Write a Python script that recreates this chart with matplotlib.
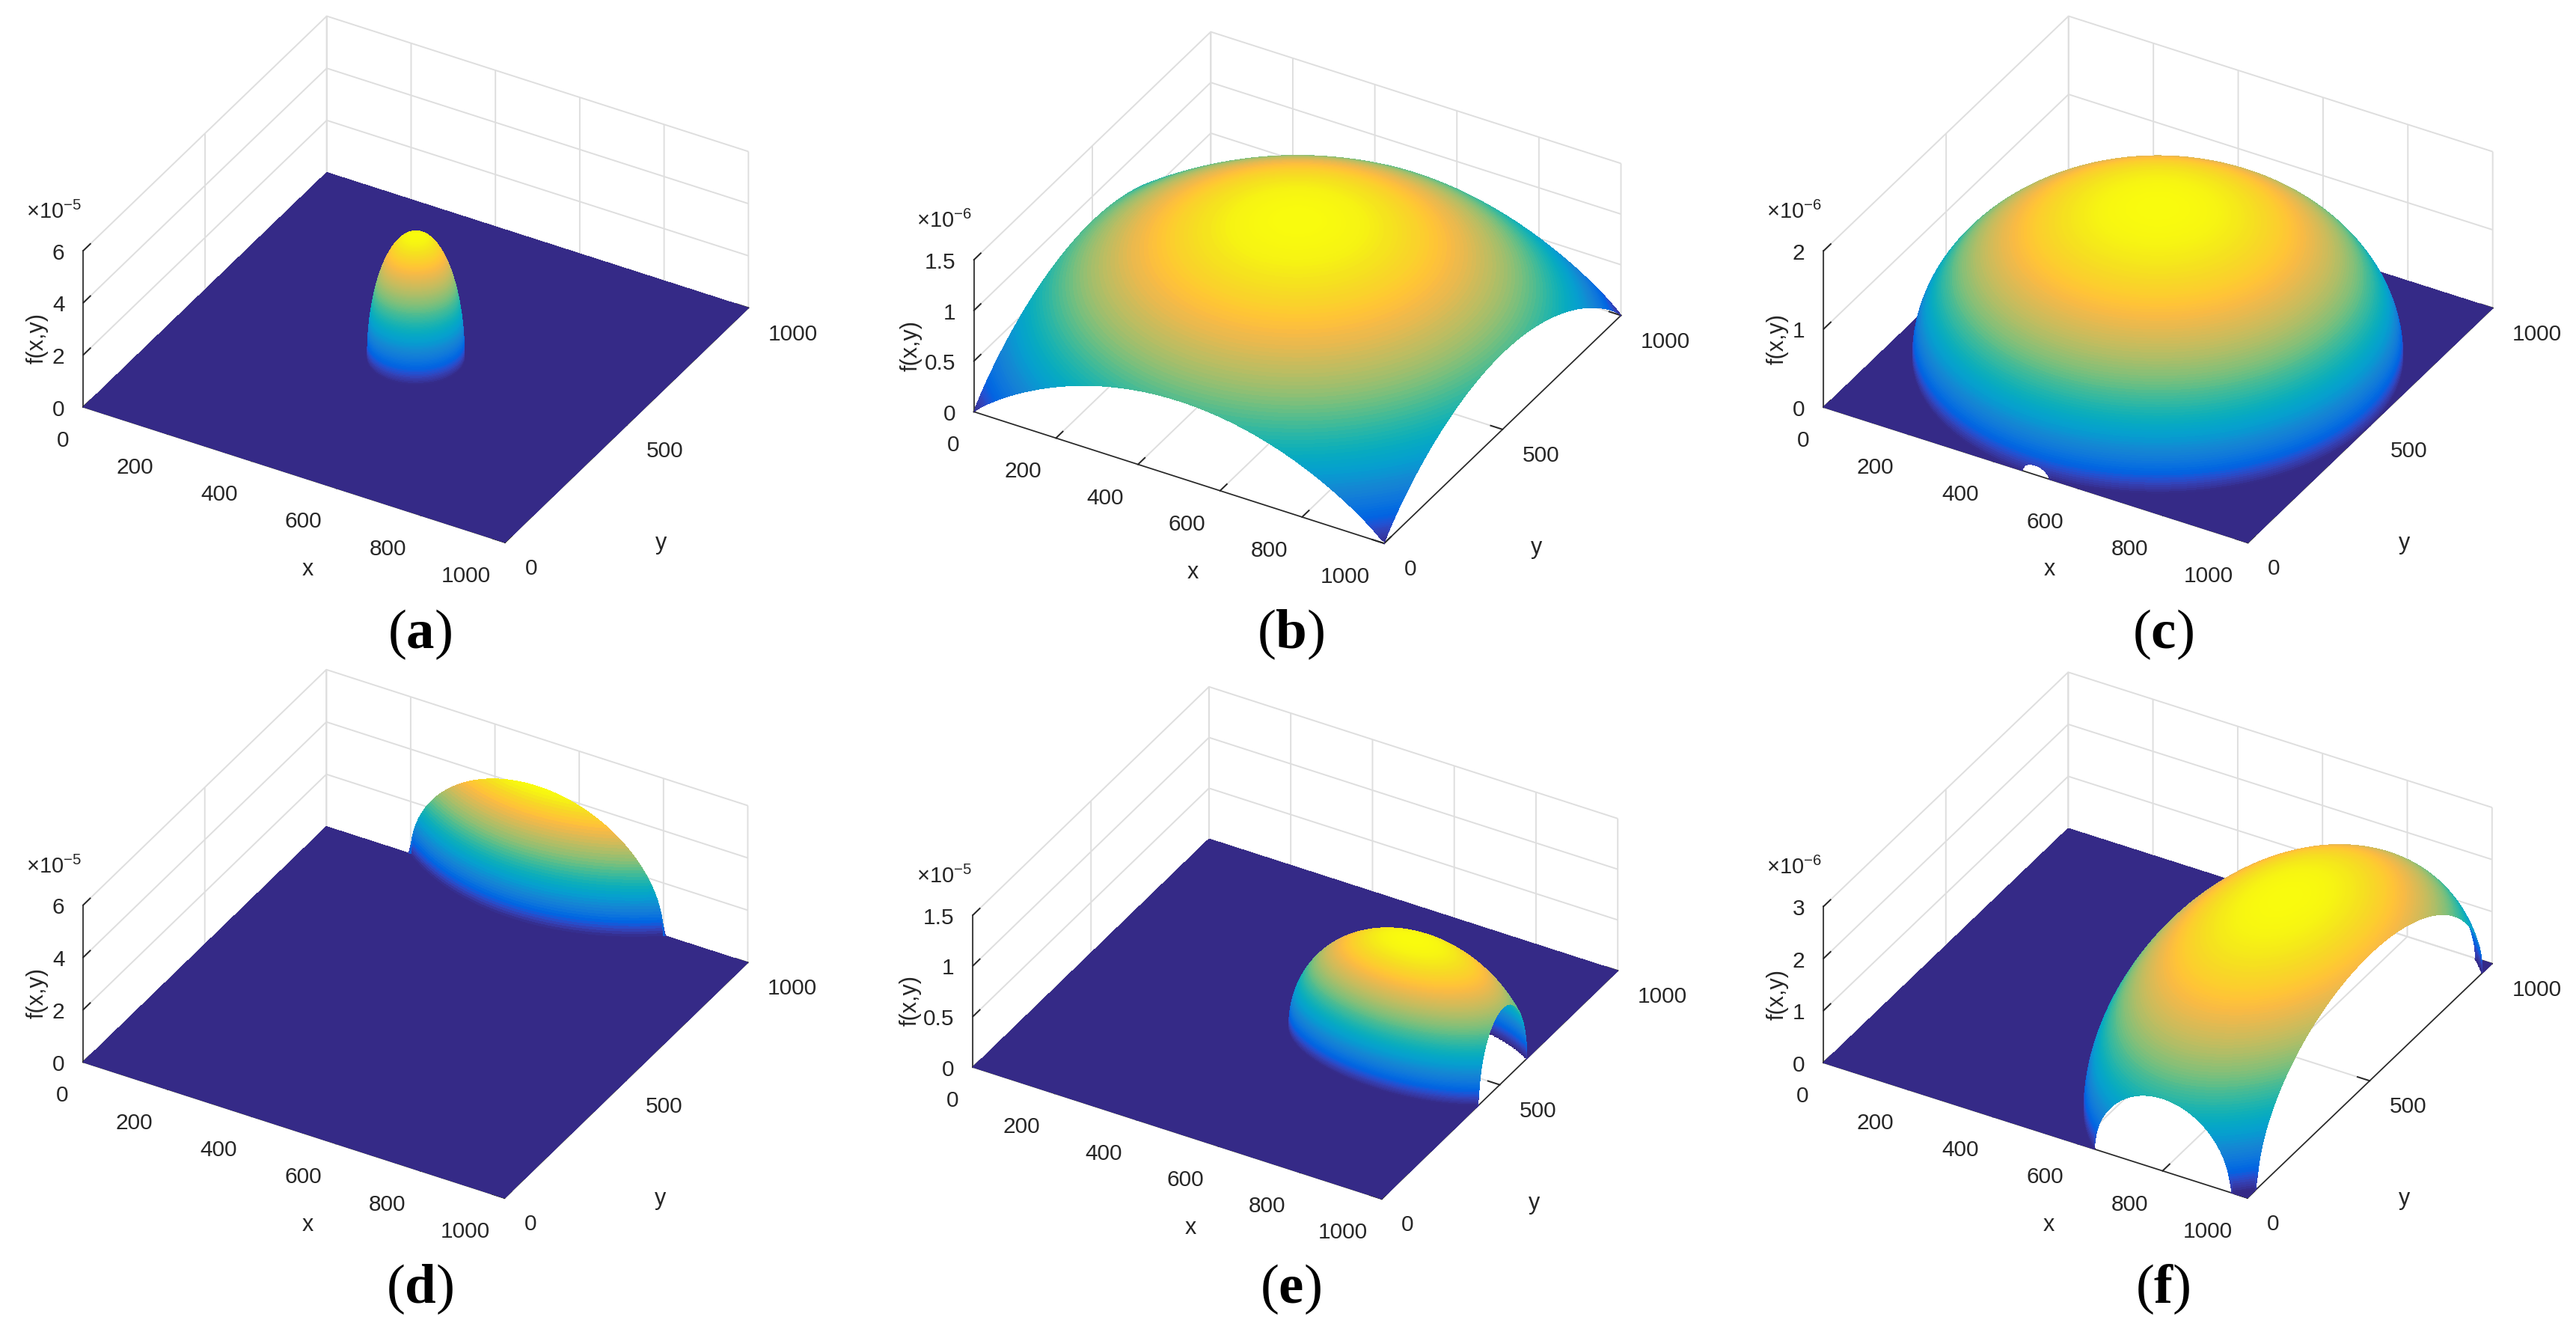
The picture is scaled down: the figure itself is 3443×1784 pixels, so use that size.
import numpy as np
import matplotlib
matplotlib.use("Agg")
import matplotlib.pyplot as plt
from matplotlib.colors import LinearSegmentedColormap
from matplotlib.transforms import Affine2D
from mpl_toolkits.mplot3d import proj3d
from mpl_toolkits.mplot3d.art3d import Poly3DCollection

plt.rcParams['font.family'] = ['Liberation Sans', 'DejaVu Sans']
plt.rcParams['mathtext.fontset'] = 'custom'
plt.rcParams['mathtext.rm'] = 'Liberation Serif'
plt.rcParams['mathtext.bf'] = 'Liberation Serif:bold'
plt.rcParams['mathtext.default'] = 'regular'

W, H = 3443, 1784
LETTERS = ['a', 'b', 'c', 'd', 'e', 'f']
X_TICKS = [0, 200, 400, 600, 800, 1000]
Y_TICKS = [0, 500, 1000]
Z_TICKS = [[0, 2, 4, 6], [0, .5, 1, 1.5], [0, 1, 2], [0, 2, 4, 6], [0, .5, 1, 1.5], [0, 1, 2, 3]]
Z_LABELS = [['0', '2', '4', '6'], ['0', '0.5', '1', '1.5'], ['0', '1', '2'],
            ['0', '2', '4', '6'], ['0', '0.5', '1', '1.5'], ['0', '1', '2', '3']]
Z_EXP = [-5, -6, -6, -5, -5, -6]
# dome centre, radii and peak (in units of 10^exp), shape exponent
CX = [500, 500, 499, 500, 780, 800]
CY = [500, 500, 500, 1400, 513, 500]
RX = [100, 707, 501, 500, 290, 345]
RY = [100, 707, 501, 500, 157, 565]
PEAK = [4.75, 1.41, 1.91, 6.9, 1.12, 2.98]
POW = [.5, .9, .5, .5, .5, .5]
# screen position (px) of axes corners: origin, x-end, xy-end, z-top
ORIGIN = [(111, 544), (1301, 551), (2437, 545), (111, 1420), (1301, 1427), (2437, 1420)]
XEND = [(677, 725), (1854, 726), (3007, 725), (675, 1601), (1844, 1602), (3005, 1601)]
XYEND = [(999, 410), (2164, 420), (3330, 410), (999, 1284), (2164, 1295), (3330, 1287)]
ZTOP = [(111, 336), (1301, 348), (2437, 336), (111, 1211), (1301, 1224), (2437, 1212)]
CAPTION = [(561, 848), (1725, 848), (2891, 848), (561, 1723), (1725, 1723), (2891, 1723)]

PARULA = [(.2081, .1663, .5292), (.2123, .2138, .6270), (.1959, .2645, .7279), (.1253, .3242, .8303),
          (.0117, .3875, .8820), (.0165, .4266, .8786), (.0498, .4586, .8641), (.0723, .4887, .8467),
          (.0793, .5200, .8312), (.0641, .5570, .8240), (.0343, .5966, .8199), (.0239, .6287, .8038),
          (.0228, .6535, .7768), (.0384, .6743, .7436), (.0843, .6928, .7062), (.1453, .7098, .6646),
          (.2178, .7250, .6193), (.3022, .7376, .5712), (.3953, .7459, .5244), (.4871, .7491, .4840),
          (.5709, .7485, .4494), (.6473, .7456, .4188), (.7184, .7411, .3905), (.7858, .7356, .3633),
          (.8507, .7299, .3360), (.9139, .7258, .3063), (.9739, .7314, .2666), (.9990, .7653, .2164),
          (.9880, .8066, .1794), (.9697, .8481, .1475), (.9589, .8949, .1132), (.9661, .9514, .0755),
          (.9763, .9831, .0538)]
parula = LinearSegmentedColormap.from_list('parula', PARULA, N=256)

GRID = '#dedede'
AXC = '#262626'
fig = plt.figure(figsize=(W / 100, H / 100), dpi=100, facecolor='white')


def nudge(text, ax, dx, dy):
    # the 3D axis resets text transforms while drawing, so shift at draw time
    orig = text.draw

    def draw(renderer):
        text.set_transform(ax.transData + Affine2D().translate(dx, dy))
        return orig(renderer)
    text.draw = draw


def floor_strips(i, n=320):
    """Flat floor outside the dome's footprint, one or two quads per row."""
    edges = np.linspace(0, 1000, n + 1)
    quads = []
    for y0, y1 in zip(edges[:-1], edges[1:]):
        t = max(0.0, 1 - min(((y0 - CY[i]) / RY[i]) ** 2, ((y1 - CY[i]) / RY[i]) ** 2))
        w = RX[i] * np.sqrt(t) * 0.995
        # keep the floor under the dome's foot: use the narrower chord of the row
        t2 = max(0.0, 1 - max(((y0 - CY[i]) / RY[i]) ** 2, ((y1 - CY[i]) / RY[i]) ** 2))
        w = RX[i] * np.sqrt(t2)
        spans = [(0, 1000)] if t2 == 0 else [(0, CX[i] - w), (CX[i] + w, 1000)]
        for a, b in spans:
            a, b = max(a, 0), min(b, 1000)
            if b > a:
                quads.append([(a, y0, 0), (b, y0, 0), (b, y1, 0), (a, y1, 0)])
    return quads


for i in range(6):
    ax = fig.add_subplot(2, 3, i + 1, projection='3d', proj_type='ortho', facecolor='none',
                         computed_zorder=False)
    ax.apply_aspect = lambda position=None: None
    ax.patch.set_visible(False)
    ztop = Z_TICKS[i][-1]
    ax.set_xlim(0, 1000); ax.set_ylim(0, 1000); ax.set_zlim(0, ztop)
    ax.view_init(elev=60, azim=-60)
    ax.set_box_aspect((1, 1, 1))
    ax.set_xticks(X_TICKS); ax.set_yticks(Y_TICKS); ax.set_zticks(Z_TICKS[i])
    ax.set_xticklabels([str(v) for v in X_TICKS]); ax.set_yticklabels([str(v) for v in Y_TICKS])
    ax.set_zticklabels(Z_LABELS[i])
    for a in (ax.xaxis, ax.yaxis, ax.zaxis):
        a.set_rotate_label(False)
    ax.set_xlabel('x', fontsize=22, labelpad=38, color=AXC, rotation=0)
    ax.set_ylabel('y', fontsize=22, labelpad=38, color=AXC, rotation=0)
    ax.set_zlabel('f(x,y)', fontsize=22, rotation=90, labelpad=30, color=AXC)
    ax.zaxis.set_ticks_position('lower'); ax.zaxis.set_label_position('lower')
    ax.tick_params(labelsize=21.5, colors=AXC, pad=12)
    for a in (ax.xaxis, ax.yaxis, ax.zaxis):
        a.set_pane_color((1, 1, 1, 0))
        a.pane.set_edgecolor((1, 1, 1, 0))
        a.line.set_color(AXC); a.line.set_linewidth(1.2)
        a._axinfo['grid'].update(color=GRID, linewidth=1.4, linestyle='-')
        a._axinfo['tick'].update(inward_factor=0, outward_factor=0.36, linewidth={True: 1.4, False: 1})
        a._axinfo['tick']['color'] = AXC
    for t in ax.xaxis.get_major_ticks():
        t.label1.set_ha('right')
    for t in ax.yaxis.get_major_ticks():
        t.label1.set_ha('left'); nudge(t.label1, ax, -7, 2)
    for t in ax.zaxis.get_major_ticks():
        t.label1.set_ha('right'); nudge(t.label1, ax, 28, 18)
    nudge(ax.xaxis.label, ax, 75, -35)
    nudge(ax.yaxis.label, ax, -53, -90)
    nudge(ax.zaxis.label, ax, 51 if Z_TICKS[i][-1] == 1.5 else 73, 7)

    # fit axes rectangle so that the projected box falls on the target corners
    M = ax.get_proj()
    c3 = [(0, 0, 0), (1000, 0, 0), (1000, 1000, 0), (0, 0, ztop)]
    targets = [ORIGIN[i], XEND[i], XYEND[i], ZTOP[i]]
    fr = []
    for p in c3:
        a2, b2, _ = proj3d.proj_transform(p[0], p[1], p[2], M)
        fr.append(ax.transAxes.inverted().transform(ax.transData.transform((a2, b2))))
    fr = np.array(fr)
    tg = np.array(targets, float)
    sx, tx = np.polyfit(fr[:, 0], tg[:, 0], 1)
    sy, ty = np.polyfit(fr[:, 1], H - tg[:, 1], 1)
    ax.set_position([tx / W, ty / H, sx / W, sy / H])

    # floor
    floor = Poly3DCollection(floor_strips(i), facecolors=[PARULA[0]], edgecolors='none',
                             linewidths=0, antialiaseds=False, zorder=1)
    ax.add_collection3d(floor, autolim=False)

    # dome on an ellipse-following mesh, nodes pressed onto the box edges
    th = np.linspace(0, 2 * np.pi, 420)
    s = np.sin(np.linspace(0, np.pi / 2, 110))
    TH, SS = np.meshgrid(th, s)
    XX = np.clip(CX[i] + RX[i] * SS * np.cos(TH), 0, 1000)
    YY = np.clip(CY[i] + RY[i] * SS * np.sin(TH), 0, 1000)
    rr = ((XX - CX[i]) / RX[i]) ** 2 + ((YY - CY[i]) / RY[i]) ** 2
    ZZ = PEAK[i] * np.clip(1 - rr, 0, None) ** POW[i]
    ax.plot_surface(XX, YY, ZZ, rstride=1, cstride=1, cmap=parula, linewidth=0,
                    antialiased=False, shade=False, vmin=0, vmax=ZZ.max(), zorder=2)

    ox, oy = ZTOP[i]
    fig.text((ox - 39) / W, 1 - (oy - 53) / H, r'$\times$10$^{%d}$' % Z_EXP[i], fontsize=21,
             color=AXC, ha='center', va='center')
    cx, cy = CAPTION[i]
    fig.text(cx / W, 1 - cy / H, '(' + r'$\mathbf{%s}$' % LETTERS[i] + ')', fontsize=54,
             family='Liberation Serif', ha='center', va='center', color='black')

fig.savefig('out.png', dpi=100)
